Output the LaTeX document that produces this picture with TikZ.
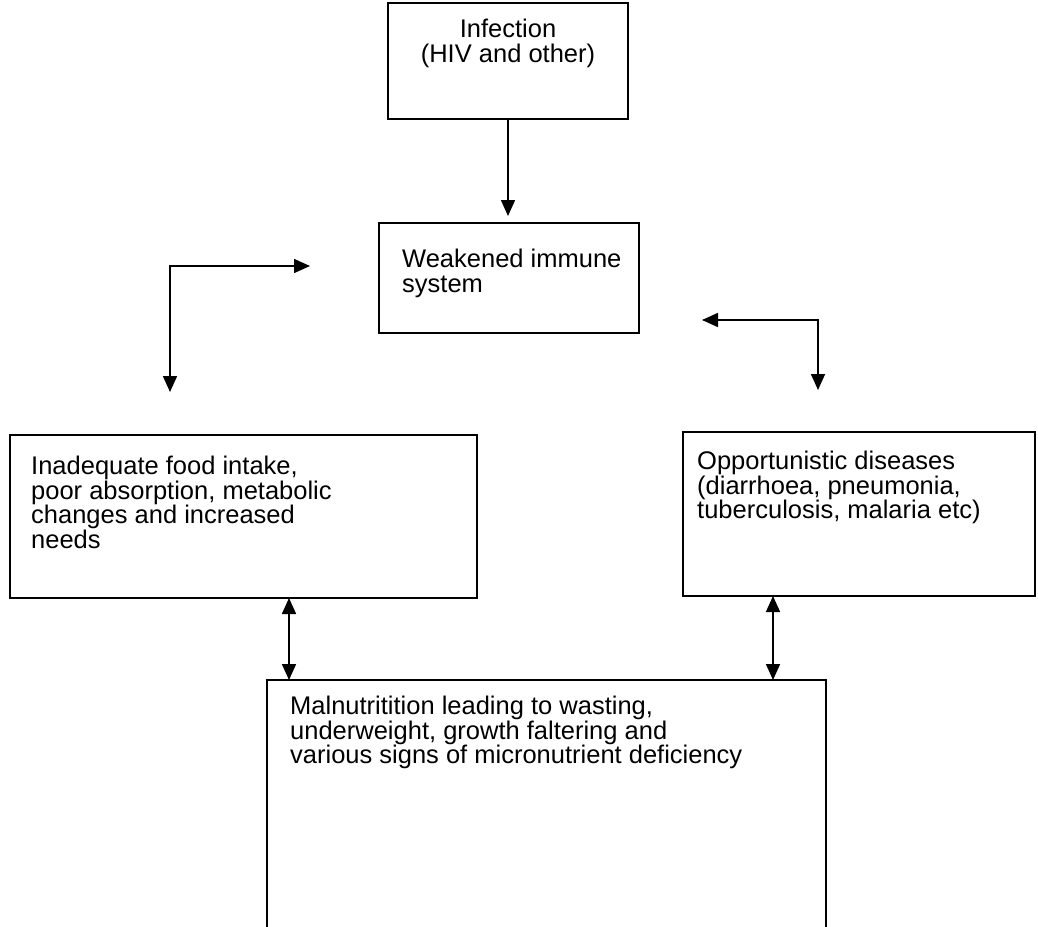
\documentclass[tikz,border=0pt]{standalone}
\usepackage{fontspec}
\setmainfont{Liberation Sans}
\usetikzlibrary{arrows.meta}
\begin{document}
\begin{tikzpicture}[x=1pt,y=-1pt,
  box/.style={draw, line width=1.8pt, anchor=north west, inner sep=0pt, outer sep=0pt},
  txt/.style={inner sep=0pt, font=\fontsize{25.5}{24.5}\selectfont},
  tip/.tip={Triangle[length=16pt,width=14pt]},
  arr/.style={line width=1.6pt, -tip},
  darr/.style={line width=1.6pt, tip-tip}]
\useasboundingbox (0,0) rectangle (1038,926);
\fill[white] (0,0) rectangle (1038,926);
% boxes
\node[box, minimum width=240pt, minimum height=116pt] (inf) at (388,3) {};
\node[box, minimum width=260pt, minimum height=110pt] (weak) at (379,223) {};
\node[box, minimum width=467pt, minimum height=163pt] (food) at (10,435) {};
\node[box, minimum width=352pt, minimum height=164pt] (opp) at (683,432) {};
\node[box, minimum width=559pt, minimum height=252pt] (mal) at (267,680) {};
% texts
\node[txt, anchor=north, align=center] (tinf) at (inf.north |- 0,19) {Infection\\(HIV and other)};
\node[txt, anchor=north west, align=left] (tweak) at (402,249) {Weakened immune\\system};
\node[txt, anchor=north west, align=left] (tfood) at (31,456) {Inadequate food intake,\\poor absorption, metabolic\\changes and increased\\needs};
\node[txt, anchor=north west, align=left] (topp) at (697,451) {Opportunistic diseases\\(diarrhoea, pneumonia,\\tuberculosis, malaria etc)};
\node[txt, anchor=north west, align=left] (tmal) at (290,696) {Malnutritition leading to wasting,\\underweight, growth faltering and\\various signs of micronutrient deficiency};
% connectors
\coordinate (weaktip) at ([yshift=7pt]weak.north -| inf.south);
\draw[arr] (inf.south) -- (weaktip);
\coordinate (lh) at (310,266);
\coordinate (lv) at (170,392);
\draw[darr] (lh) -| (lv);
\coordinate (rh) at (702,320);
\coordinate (rv) at (818,390);
\draw[darr] (rh) -| (rv);
\draw[darr] (food.south -| 289,0) -- (mal.north -| 289,0);
\draw[darr] (opp.south -| 773,0) -- (mal.north -| 773,0);
\end{tikzpicture}
\end{document}
